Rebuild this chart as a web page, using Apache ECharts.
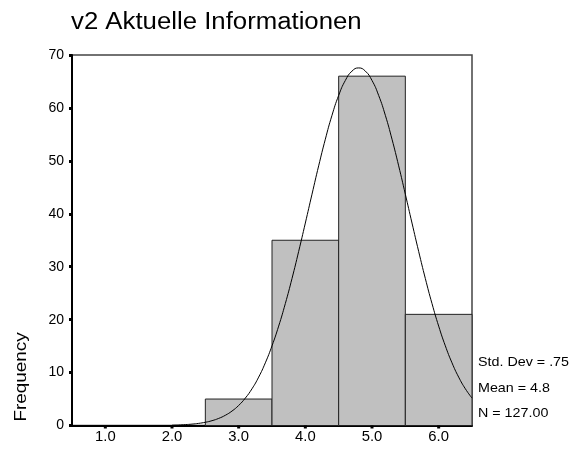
<!DOCTYPE html>
<html>
<head>
<meta charset="utf-8">
<script src="https://cdn.jsdelivr.net/npm/echarts@6/dist/echarts.min.js"></script>
<style>html,body{margin:0;padding:0;background:#fff;}#c{width:573px;height:450px;}</style>
</head>
<body>
<div id="c"></div>
<script>
// Histogram bins (centers) and frequencies
var binCenters = [3.0, 4.0, 5.0, 6.0];
var frequencies = [5, 35, 66, 21];
var binWidth = 1;
// x tick labels
var xTicks = [1.0, 2.0, 3.0, 4.0, 5.0, 6.0];
// Normal curve points
var curveX = [2.0,2.1,2.2,2.3,2.4,2.5,2.6,2.7,2.8,2.9,3.0,3.1,3.2,3.3,3.4,3.5,3.6,3.7,3.8,3.9,4.0,4.1,4.2,4.3,4.4,4.5,4.6,4.7,4.8,4.9,5.0,5.1,5.2,5.3,5.4,5.5,5.6,5.7,5.8,5.9,6.0,6.1,6.2,6.3,6.4,6.5];
var curveY = [0.06,0.10,0.17,0.26,0.40,0.61,0.91,1.34,1.93,2.73,3.79,5.18,6.94,9.14,11.84,15.05,18.78,23.04,27.77,32.89,38.25,43.70,49.06,54.09,58.61,62.36,65.19,66.96,67.56,66.96,65.19,62.36,58.61,54.09,49.06,43.70,38.25,32.89,27.77,23.04,18.78,15.05,11.84,9.14,6.94,5.18];
var statsLines = ['Std. Dev = .75', 'Mean = 4.8', 'N = 127.00'];
var titleText = 'v2 Aktuelle Informationen';
var yAxisName = 'Frequency';

var chart = echarts.init(document.getElementById('c'), null, {renderer: 'canvas'});
var FONT = '"Liberation Sans", Arial, sans-serif';

var barData = binCenters.map(function (c, i) { return [c - binWidth / 2, c + binWidth / 2, frequencies[i]]; });
var lineData = curveX.map(function (x, i) { return [x, curveY[i]]; });

var graphics = [
  {type: 'text', x: 71, y: 23, scaleX: 1.12,
   style: {text: titleText, font: '23px ' + FONT, fill: '#000', verticalAlign: 'middle', align: 'left'}},
  {type: 'text', x: 22, y: 377, rotation: Math.PI / 2, scaleX: 1.18,
   style: {text: yAxisName, font: '16px ' + FONT, fill: '#000', align: 'center', verticalAlign: 'middle'}}
];
var statsY = [362, 388, 413];
statsLines.forEach(function (s, i) {
  graphics.push({type: 'text', x: 478, y: statsY[i], scaleX: 1.1,
    style: {text: s, font: '13px ' + FONT, fill: '#000', verticalAlign: 'middle', align: 'left'}});
});

var option = {
  animation: false,
  backgroundColor: '#fff',
  grid: {left: 72, right: 101, top: 55, bottom: 24.5, show: true, borderColor: '#444', borderWidth: 1.5, backgroundColor: 'transparent'},
  xAxis: {
    type: 'value', min: 0.5, max: 6.5,
    axisLine: {show: true, onZero: false, lineStyle: {color: '#000', width: 2}},
    axisTick: {show: false},
    axisLabel: {show: false},
    splitLine: {show: false}
  },
  yAxis: {
    type: 'value', min: 0, max: 70, interval: 10,
    axisLine: {show: true, lineStyle: {color: '#000', width: 2}},
    axisTick: {show: true, length: 3, lineStyle: {color: '#000', width: 3}},
    axisLabel: {color: '#000', fontFamily: FONT, fontSize: 14, margin: 8,
      formatter: function (v) { return v; }},
    splitLine: {show: false}
  },
  graphic: graphics,
  series: [
    {
      type: 'custom',
      renderItem: function (params, api) {
        var p0 = api.coord([api.value(0), api.value(2)]);
        var p1 = api.coord([api.value(1), 0]);
        return {
          type: 'rect',
          shape: {x: p0[0], y: p0[1], width: p1[0] - p0[0], height: p1[1] - p0[1]},
          style: {fill: '#c0c0c0', stroke: '#222', lineWidth: 1}
        };
      },
      encode: {x: [0, 1], y: 2},
      data: barData,
      z: 2
    },
    {
      type: 'line', data: lineData, showSymbol: false, smooth: true,
      lineStyle: {color: '#000', width: 1}, z: 3, clip: true
    },
    {
      // x-axis tick marks and labels at the tick values
      type: 'custom',
      renderItem: function (params, api) {
        var v = api.value(0);
        var p = api.coord([v, 0]);
        var base = params.coordSys.y + params.coordSys.height;
        return {
          type: 'group',
          children: [
            {type: 'rect', shape: {x: p[0] - 1.5, y: base, width: 3, height: 3}, style: {fill: '#000'}},
            {type: 'text', x: p[0], y: base + 11.5, scaleX: 1.06,
             style: {text: v.toFixed(1), x: 0, y: 0, align: 'center', verticalAlign: 'middle', fill: '#000', font: '14px ' + FONT}}
          ]
        };
      },
      data: xTicks.map(function (t) { return [t]; }),
      encode: {x: 0},
      z: 5, clip: false
    }
  ]
};
chart.setOption(option);
</script>
</body>
</html>
